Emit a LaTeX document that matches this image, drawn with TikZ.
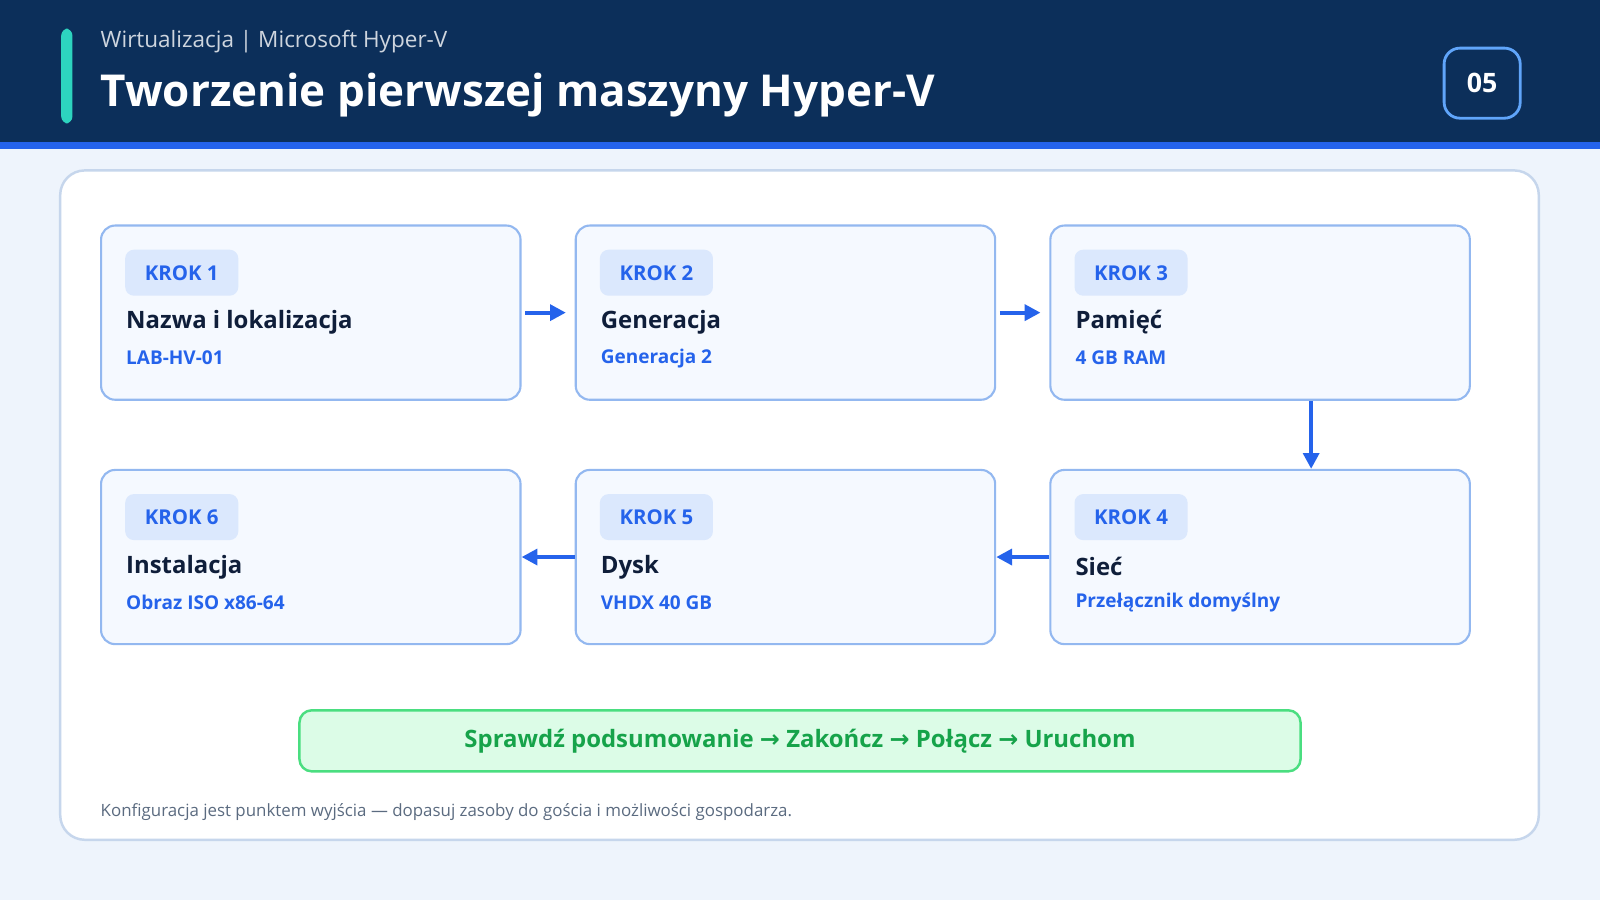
\documentclass[tikz,border=0pt]{standalone}
\usepackage{fontspec}
\setmainfont{Open Sans}
\newfontfamily\symfont{DejaVu Sans}
\usetikzlibrary{arrows.meta, positioning}
\definecolor{navy}{HTML}{0C2F5A}
\definecolor{accent}{HTML}{2563EB}
\definecolor{teal}{HTML}{2DD4BF}
\definecolor{pagebg}{HTML}{EEF4FC}
\definecolor{panelline}{HTML}{C6D6EC}
\definecolor{boxfill}{HTML}{F5F9FF}
\definecolor{boxline}{HTML}{93B8F0}
\definecolor{tagfill}{HTML}{DBE8FD}
\definecolor{ink}{HTML}{0F1E3A}
\definecolor{okfill}{HTML}{DCFCE7}
\definecolor{okline}{HTML}{4ADE80}
\definecolor{okink}{HTML}{16A34A}
\definecolor{muted}{HTML}{5B6B80}
\newcommand{\nextarr}{{\symfont →}}
\tikzstyle{stepbox} = [rectangle, rounded corners=4pt, minimum width=4.19cm, minimum height=1.74cm, draw=boxline, fill=boxfill, line width=0.6pt]
\tikzstyle{tag} = [rectangle, rounded corners=2.5pt, minimum width=1.13cm, minimum height=0.46cm, fill=tagfill, text=accent, font=\bfseries\fontsize{5.8}{7}\selectfont]
\tikzstyle{stitle} = [anchor=west, inner sep=0, text=ink, font=\bfseries\fontsize{6.8}{8}\selectfont]
\tikzstyle{ssub} = [anchor=west, inner sep=0, text=accent, font=\bfseries\fontsize{5.4}{7}\selectfont]
\tikzstyle{arrow} = [line width=1.1pt, draw=accent, -{Triangle[length=4.5pt,width=4.5pt]}]

\begin{document}
\begin{tikzpicture}[x=0.0102cm, y=-0.0102cm]
% page and header
\fill[pagebg] (0,0) rectangle (1568,882);
\useasboundingbox (0,0) rectangle (1568,882);
\fill[navy] (0,0) rectangle (1568,139);
\fill[accent] (0,139) rectangle (1568,146);
\fill[teal, rounded corners=2pt] (60,28) rectangle (71,121);
\node (kicker) [anchor=west, inner sep=0, text=white!80!navy, font=\fontsize{6.4}{8}\selectfont] at (98,41) {Wirtualizacja | Microsoft Hyper-V};
\node (title) [anchor=west, inner sep=0, text=white, font=\bfseries\fontsize{12.5}{15}\selectfont] at (98,93) {Tworzenie pierwszej maszyny Hyper-V};
\node (badge) [draw={rgb,255:red,96;green,165;blue,250}, line width=0.8pt, rounded corners=4.5pt, minimum width=0.76cm, minimum height=0.7cm, text=white, font=\bfseries\fontsize{7.6}{9}\selectfont] at (1452.5,81.5) {05};

% panel
\filldraw[fill=white, draw=panelline, line width=0.7pt, rounded corners=7pt] (59,167) rectangle (1508,823);

% steps
\node (b1) [stepbox, anchor=north west] at (98,220) {};
\node (b2) [stepbox, right=0.53cm of b1] {};
\node (b3) [stepbox, right=0.53cm of b2] {};
\node (b4) [stepbox, below=0.68cm of b3] {};
\node (b5) [stepbox, left=0.53cm of b4] {};
\node (b6) [stepbox, left=0.53cm of b5] {};

\foreach \b/\n/\t/\s in {b1/1/Nazwa i lokalizacja/LAB-HV-01, b2/2/Generacja/Generacja 2, b3/3/Pamięć/4 GB RAM, b4/4/Sieć/Przełącznik domyślny, b5/5/Dysk/VHDX 40 GB, b6/6/Instalacja/Obraz ISO x86-64} {
  \node (tag\n) [tag, anchor=north west] at ([shift={(24,24)}]\b.north west) {KROK \n};
  \node (tt\n) [stitle] at ([shift={(25,96)}]\b.north west) {\t};
  \node (ts\n) [ssub] at ([shift={(25,131)}]\b.north west) {\s};
}

\draw [arrow, shorten <=1pt, shorten >=2.5pt] (b1) -- (b2);
\draw [arrow, shorten <=1pt, shorten >=2.5pt] (b2) -- (b3);
\draw [arrow] ([xshift=0.51cm]b3.south) -- ([xshift=0.51cm]b4.north);
\draw [arrow] (b4) -- (b5);
\draw [arrow] (b5) -- (b6);

% summary
\node (summary) [draw=okline, fill=okfill, line width=0.7pt, rounded corners=3.5pt, minimum width=10cm, minimum height=0.61cm, text=okink, font=\bfseries\fontsize{6.8}{8}\selectfont] at (784,726) {Sprawdź podsumowanie \nextarr{} Zakończ \nextarr{} Połącz \nextarr{} Uruchom};
\node (note) [anchor=west, inner sep=0, text=muted, font=\fontsize{4.8}{6}\selectfont] at (98,796) {Konfiguracja jest punktem wyjścia — dopasuj zasoby do gościa i możliwości gospodarza.};
\end{tikzpicture}
\end{document}
